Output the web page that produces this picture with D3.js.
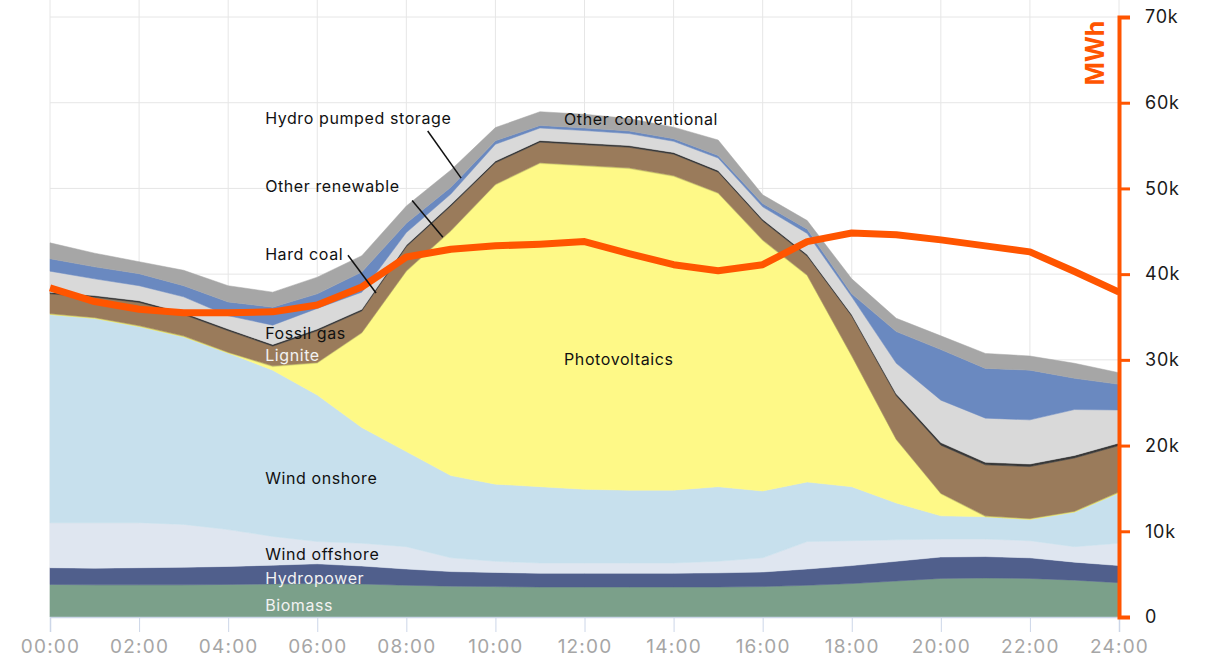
<!DOCTYPE html>
<html>
<head>
<meta charset="utf-8">
<script src="https://cdn.jsdelivr.net/npm/d3@7"></script>
<style>
  body { margin: 0; background: #fff; }
  svg { display: block; font-family: Inter, 'Noto Sans', sans-serif; }
</style>
</head>
<body>
<div id="chart"></div>
<script>
// hours 0..24
var hours = d3.range(0, 25)

// generation per source, thousand MWh
var biomass = [3.8, 3.75, 3.75, 3.75, 3.8, 3.85, 3.9, 3.85, 3.7, 3.6, 3.55, 3.5, 3.5, 3.5, 3.5, 3.5, 3.55, 3.7, 3.9, 4.2, 4.5, 4.55, 4.5, 4.3, 4.0]
var hydropower = [1.95, 1.95, 2.0, 2.05, 2.1, 2.2, 2.3, 2.1, 1.9, 1.7, 1.65, 1.6, 1.6, 1.6, 1.6, 1.65, 1.7, 1.9, 2.1, 2.3, 2.5, 2.5, 2.4, 2.1, 2.0]
var windOffshore = [5.25, 5.3, 5.25, 5.0, 4.3, 3.35, 2.6, 2.65, 2.6, 1.6, 1.3, 1.2, 1.2, 1.2, 1.2, 1.35, 1.65, 3.2, 2.9, 2.5, 2.1, 2.05, 2.0, 1.8, 2.6]
var windOnshore = [24.3, 23.85, 22.9, 21.9, 20.6, 19.4, 17.1, 13.5, 11.1, 9.6, 9.0, 8.9, 8.6, 8.5, 8.5, 8.7, 7.8, 6.95, 6.3, 4.3, 2.7, 2.6, 2.5, 4.05, 5.9]
var photovoltaics = [0, 0, 0, 0, 0, 0.4, 3.7, 11.0, 21.0, 28.5, 34.9, 37.7, 37.7, 37.5, 36.6, 34.2, 29.2, 24.05, 15.2, 7.35, 2.55, 0, 0, 0, 0]
var otherRenewable = [0.1, 0.1, 0.1, 0.1, 0.1, 0.1, 0.1, 0.1, 0.1, 0.1, 0.1, 0.1, 0.1, 0.1, 0.1, 0.1, 0.1, 0.1, 0.1, 0.1, 0.1, 0.1, 0.1, 0.1, 0.1]
var lignite = [2.3, 2.35, 2.7, 2.5, 2.5, 2.3, 3.7, 2.5, 2.8, 2.85, 2.5, 2.4, 2.4, 2.4, 2.5, 2.4, 2.2, 2.2, 4.6, 5.05, 5.6, 5.95, 6.05, 6.2, 5.4]
var hardCoal = [0.2, 0.2, 0.2, 0.2, 0.2, 0.2, 0.2, 0.2, 0.2, 0.2, 0.2, 0.2, 0.2, 0.2, 0.2, 0.2, 0.2, 0.2, 0.2, 0.25, 0.3, 0.3, 0.3, 0.3, 0.3]
var fossilGas = [2.45, 1.95, 1.75, 1.85, 1.55, 2.25, 2.4, 2.0, 1.45, 1.2, 1.95, 1.45, 1.45, 1.4, 1.3, 1.45, 1.45, 2.45, 2.05, 3.55, 4.95, 5.15, 5.15, 5.35, 3.85]
var pumpedStorage = [1.45, 1.4, 1.4, 1.3, 1.6, 2.1, 1.7, 2.35, 1.1, 0.8, 0.4, 0.3, 0.3, 0.3, 0.3, 0.3, 0.4, 0.5, 0.35, 3.7, 5.9, 5.8, 5.8, 3.65, 3.0]
var otherConventional = [1.85, 1.6, 1.4, 1.8, 1.9, 1.75, 1.95, 1.9, 2.0, 2.0, 1.55, 1.6, 1.6, 1.45, 1.35, 1.8, 1.0, 1.0, 1.75, 1.55, 1.6, 1.75, 1.65, 1.75, 1.35]

// consumption line, thousand MWh
var load = [38.4, 36.8, 35.9, 35.5, 35.5, 35.6, 36.4, 38.5, 42.0, 42.9, 43.3, 43.5, 43.8, 42.4, 41.1, 40.4, 41.1, 43.8, 44.8, 44.6, 44.0, 43.3, 42.6, 40.3, 37.9]

var xTickLabels = ['00:00', '02:00', '04:00', '06:00', '08:00', '10:00', '12:00', '14:00', '16:00', '18:00', '20:00', '22:00', '24:00']
var yTickLabels = ['0', '10k', '20k', '30k', '40k', '50k', '60k', '70k']

var sources = [
  { key: 'biomass', name: 'Biomass', values: biomass, color: '#7ba08a' },
  { key: 'hydropower', name: 'Hydropower', values: hydropower, color: '#505f8c' },
  { key: 'windOffshore', name: 'Wind offshore', values: windOffshore, color: '#dfe6f0' },
  { key: 'windOnshore', name: 'Wind onshore', values: windOnshore, color: '#c7e0ed' },
  { key: 'photovoltaics', name: 'Photovoltaics', values: photovoltaics, color: '#fef987' },
  { key: 'otherRenewable', name: 'Other renewable', values: otherRenewable, color: '#d8d66a' },
  { key: 'lignite', name: 'Lignite', values: lignite, color: '#9a7b5b' },
  { key: 'hardCoal', name: 'Hard coal', values: hardCoal, color: '#383838' },
  { key: 'fossilGas', name: 'Fossil gas', values: fossilGas, color: '#d9d9d9' },
  { key: 'pumpedStorage', name: 'Hydro pumped storage', values: pumpedStorage, color: '#6a89c0' },
  { key: 'otherConventional', name: 'Other conventional', values: otherConventional, color: '#a6a6a6' }
]

// label spots: [text, hour, thousand MWh, color]
var labels = [
  ['Hydro pumped storage', 4.83, 58.2, '#111'],
  ['Other conventional', 11.54, 58.1, '#111'],
  ['Other renewable', 4.83, 50.2, '#111'],
  ['Hard coal', 4.83, 42.35, '#111'],
  ['Fossil gas', 4.83, 33.1, '#111'],
  ['Lignite', 4.83, 30.55, '#f2f2f2'],
  ['Photovoltaics', 11.54, 30.0, '#111'],
  ['Wind onshore', 4.83, 16.2, '#111'],
  ['Wind offshore', 4.83, 7.35, '#111'],
  ['Hydropower', 4.83, 4.55, '#f2f2f2'],
  ['Biomass', 4.83, 1.4, '#f2f2f2']
]

// pointer lines: [hour1, value1, hour2, value2]
var pointers = [
  [6.69, 42.2, 7.32, 37.8],
  [8.13, 48.6, 8.82, 44.3],
  [8.48, 56.7, 9.23, 51.2]
]

var width = 1210
var height = 659
var margin = { top: 17, right: 91, bottom: 42, left: 50 }
var innerW = width - margin.left - margin.right
var innerH = height - margin.top - margin.bottom
var ORANGE = '#ff5500'

var svg = d3
  .select('#chart')
  .append('svg')
  .attr('width', width)
  .attr('height', height)

var g = svg
  .append('g')
  .attr('transform', 'translate(' + margin.left + ',' + margin.top + ')')

var x = d3.scaleLinear().domain([0, 24]).range([0, innerW])
var y = d3.scaleLinear().domain([0, 70]).range([innerH, 0])

// grid
g.selectAll('.vgrid')
  .data(d3.range(0, 25, 2))
  .enter()
  .append('line')
  .attr('x1', d => x(d))
  .attr('x2', d => x(d))
  .attr('y1', -margin.top)
  .attr('y2', innerH)
  .attr('stroke', '#e6e6e6')
  .attr('stroke-width', 1)

g.selectAll('.hgrid')
  .data(d3.range(10, 71, 10))
  .enter()
  .append('line')
  .attr('x1', 0)
  .attr('x2', innerW)
  .attr('y1', d => y(d))
  .attr('y2', d => y(d))
  .attr('stroke', '#e6e6e6')
  .attr('stroke-width', 1)

// stacked areas
var rows = hours.map((h, i) => {
  var row = { hour: h }
  sources.forEach(s => { row[s.key] = s.values[i] })
  return row
})

var stack = d3.stack().keys(sources.map(s => s.key))
var layers = stack(rows)

var area = d3
  .area()
  .x(d => x(d.data.hour))
  .y0(d => y(d[0]))
  .y1(d => y(d[1]))

g.selectAll('.layer')
  .data(layers)
  .enter()
  .append('path')
  .attr('d', area)
  .attr('fill', (d, i) => sources[i].color)
  .attr('stroke', (d, i) => sources[i].color)
  .attr('stroke-width', 0.5)

// x axis
var xAxis = g
  .append('g')
  .attr('transform', 'translate(0,' + innerH + ')')
  .call(
    d3.axisBottom(x)
      .tickValues(d3.range(0, 25, 2))
      .tickSize(15)
      .tickFormat((d, i) => xTickLabels[i])
  )
xAxis.select('.domain').attr('stroke', '#ccd6e8').attr('stroke-width', 1.5)
xAxis.selectAll('.tick line').attr('stroke', '#ccd6e8')
xAxis
  .selectAll('.tick text')
  .attr('fill', '#a6a6a6')
  .attr('font-size', 19)
  .attr('dy', '0.95em')
  .attr('letter-spacing', 1.2)
  .attr('font-family', 'Inter, sans-serif')

// load line
var line = d3
  .line()
  .x((d, i) => x(hours[i]))
  .y(d => y(d))

g.append('path')
  .datum(load)
  .attr('d', line)
  .attr('fill', 'none')
  .attr('stroke', ORANGE)
  .attr('stroke-width', 7)
  .attr('stroke-linejoin', 'round')

// labels
g.selectAll('.lbl')
  .data(labels)
  .enter()
  .append('text')
  .attr('x', d => x(d[1]))
  .attr('y', d => y(d[2]))
  .attr('dy', '0.35em')
  .attr('fill', d => d[3])
  .attr('font-size', 16)
  .attr('letter-spacing', 0.6)
  .text(d => d[0])

g.selectAll('.ptr')
  .data(pointers)
  .enter()
  .append('line')
  .attr('x1', d => x(d[0]))
  .attr('y1', d => y(d[1]))
  .attr('x2', d => x(d[2]))
  .attr('y2', d => y(d[3]))
  .attr('stroke', '#111')
  .attr('stroke-width', 1.5)

// right axis
var yAxis = g
  .append('g')
  .attr('transform', 'translate(' + innerW + ',0)')
  .call(
    d3.axisRight(y)
      .tickValues(d3.range(0, 71, 10))
      .tickSize(11)
      .tickPadding(15)
      .tickFormat((d, i) => yTickLabels[i])
  )
yAxis.select('.domain').attr('stroke', ORANGE).attr('stroke-width', 4)
yAxis.selectAll('.tick line').attr('stroke', ORANGE).attr('stroke-width', 3)
yAxis
  .selectAll('.tick text')
  .attr('fill', '#1a1a1a')
  .attr('font-size', 18)
  .attr('letter-spacing', 0.8)
  .attr('font-family', 'Inter, sans-serif')

g.append('text')
  .attr('transform', 'translate(' + (innerW - 15) + ',' + y(65.8) + ') rotate(-90)')
  .attr('text-anchor', 'middle')
  .attr('fill', ORANGE)
  .attr('font-size', 25)
  .attr('font-weight', 'bold')
  .text('MWh')
</script>
</body>
</html>
